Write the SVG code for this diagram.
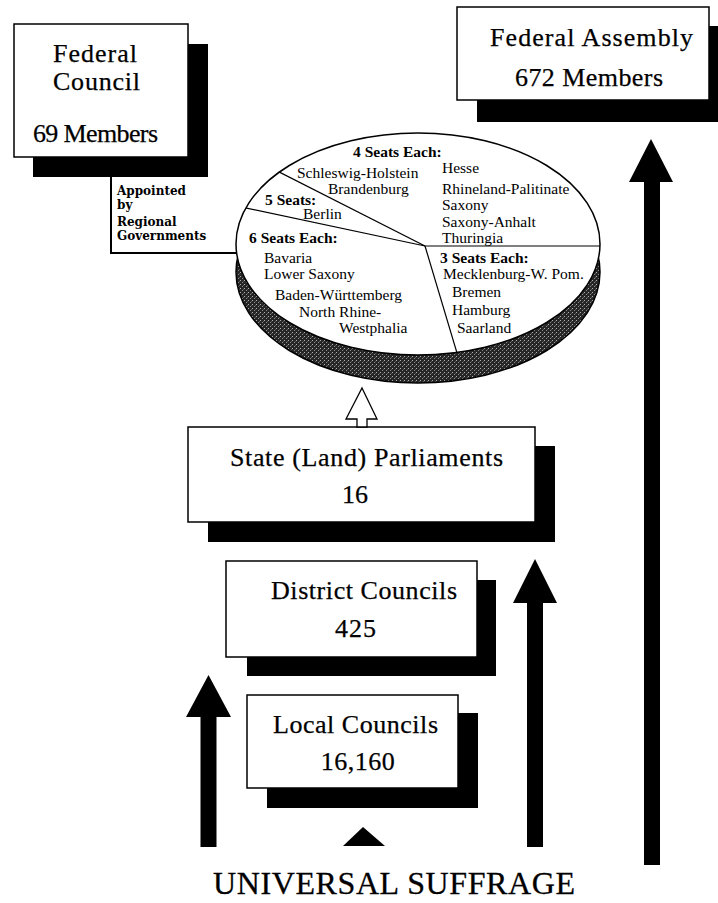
<svg xmlns="http://www.w3.org/2000/svg" width="718" height="903" viewBox="0 0 718 903">
  <style>
    .box { fill: #fff; stroke: #000; stroke-width: 1.5; }
    .shadow { fill: #000; }
    .title { font-family: "Liberation Serif", "Times New Roman", serif; font-size: 26px; fill: #000; stroke: #000; stroke-width: 0.25; }
    .pie { font-family: "Liberation Serif", "Times New Roman", serif; font-size: 15.5px; fill: #000; }
    .pie-h { font-family: "Liberation Serif", "Times New Roman", serif; font-size: 15.5px; font-weight: bold; fill: #000; }
    .note { font-family: "DejaVu Serif", serif; font-size: 12px; font-weight: bold; fill: #000; }
    .big { font-family: "Liberation Serif", "Times New Roman", serif; font-size: 32px; fill: #000; stroke: #000; stroke-width: 0.3; }
    .arrow { fill: #000; }
    .slice { stroke: #000; stroke-width: 1.2; fill: none; }
  </style>
  <defs>
    <!-- stippled grey for the pie rim -->
    <pattern id="stipple" width="4" height="4" patternUnits="userSpaceOnUse">
      <rect width="4" height="4" fill="#262626"/>
      <rect x="0" y="0" width="1" height="1" fill="#b0b0b0"/>
      <rect x="2" y="2" width="1" height="1" fill="#8a8a8a"/>
      <rect x="3" y="1" width="1" height="1" fill="#5a5a5a"/>
    </pattern>
    <clipPath id="pieFace">
      <ellipse cx="418" cy="244" rx="182" ry="111"/>
    </clipPath>
  </defs>

  <rect width="718" height="903" fill="#fff"/>

  <!-- Federal Council -->
  <g id="federal-council">
    <rect class="shadow" x="33" y="44" width="175" height="133"/>
    <rect class="box" x="14" y="24" width="174" height="133"/>
    <text class="title" x="53" y="62" font-size="23" textLength="84">Federal</text>
    <text class="title" x="53" y="90" font-size="23" textLength="87">Council</text>
    <text class="title" x="33" y="142" font-size="24" textLength="125">69 Members</text>
  </g>

  <!-- Federal Assembly -->
  <g id="federal-assembly">
    <rect class="shadow" x="477" y="26" width="241" height="96"/>
    <rect class="box" x="457" y="7" width="252" height="93"/>
    <text class="title" x="490" y="46" textLength="203">Federal Assembly</text>
    <text class="title" x="515" y="86" textLength="148">672 Members</text>
  </g>

  <!-- Seat distribution pie -->
  <g id="seat-pie">
    <ellipse cx="418" cy="272" rx="182" ry="111" fill="url(#stipple)" stroke="#000" stroke-width="1.5"/>
    <ellipse cx="418" cy="244" rx="182" ry="111" fill="#fff" stroke="#000" stroke-width="1.5"/>
    <g clip-path="url(#pieFace)">
      <line class="slice" x1="425" y1="246" x2="700" y2="246"/>
      <line class="slice" x1="425" y1="246" x2="145" y2="104"/>
      <line class="slice" x1="425" y1="246" x2="77" y2="172"/>
      <line class="slice" x1="425" y1="246" x2="489" y2="460"/>
    </g>
    <text class="pie-h" x="353" y="157">4 Seats Each:</text>
    <text class="pie" x="297" y="178">Schleswig-Holstein</text>
    <text class="pie" x="328" y="194">Brandenburg</text>
    <text class="pie" x="442" y="173">Hesse</text>
    <text class="pie" x="442" y="194">Rhineland-Palitinate</text>
    <text class="pie" x="442" y="210">Saxony</text>
    <text class="pie" x="442" y="227">Saxony-Anhalt</text>
    <text class="pie" x="442" y="243">Thuringia</text>
    <text class="pie-h" x="265" y="205">5 Seats:</text>
    <text class="pie" x="303" y="219">Berlin</text>
    <text class="pie-h" x="249" y="243">6 Seats Each:</text>
    <text class="pie" x="264" y="263">Bavaria</text>
    <text class="pie" x="264" y="279">Lower Saxony</text>
    <text class="pie" x="275" y="300">Baden-Württemberg</text>
    <text class="pie" x="299" y="317">North Rhine-</text>
    <text class="pie" x="339" y="333">Westphalia</text>
    <text class="pie-h" x="440" y="263">3 Seats Each:</text>
    <text class="pie" x="443" y="279">Mecklenburg-W. Pom.</text>
    <text class="pie" x="452" y="297">Bremen</text>
    <text class="pie" x="452" y="315">Hamburg</text>
    <text class="pie" x="457" y="333">Saarland</text>
  </g>

  <!-- State (Land) Parliaments -->
  <g id="state-parliaments">
    <rect class="shadow" x="208" y="446" width="347" height="96"/>
    <rect class="box" x="188" y="427" width="347" height="95"/>
    <text class="title" x="230" y="466" textLength="273">State (Land) Parliaments</text>
    <text class="title" x="355" y="503" text-anchor="middle">16</text>
  </g>

  <!-- District Councils -->
  <g id="district-councils">
    <rect class="shadow" x="247" y="580" width="249" height="96"/>
    <rect class="box" x="226" y="561" width="251" height="96"/>
    <text class="title" x="271" y="599" textLength="186">District Councils</text>
    <text class="title" x="356" y="637" text-anchor="middle" letter-spacing="1">425</text>
  </g>

  <!-- Local Councils -->
  <g id="local-councils">
    <rect class="shadow" x="267" y="713" width="211" height="95"/>
    <rect class="box" x="247" y="695" width="211" height="93"/>
    <text class="title" x="273" y="733" textLength="165">Local Councils</text>
    <text class="title" x="358" y="770" text-anchor="middle" letter-spacing="0.5">16,160</text>
  </g>

  <!-- Electorate -->
  <g id="universal-suffrage">
    <text class="big" x="213" y="894" textLength="362">UNIVERSAL SUFFRAGE</text>
  </g>

  <!-- Connectors -->
  <g id="connectors">
    <!-- appointment bracket from Federal Council to the pie -->
    <polyline points="111,177 111,253 237,253" fill="none" stroke="#000" stroke-width="2"/>
    <text class="note" x="117" y="195">Appointed</text>
    <text class="note" x="117" y="209">by</text>
    <text class="note" x="117" y="226">Regional</text>
    <text class="note" x="117" y="240">Governments</text>

    <!-- hollow arrow: State Parliaments to pie -->
    <polygon points="362,388 377,419 367,419 367,427 357,427 357,419 346,419" fill="#fff" stroke="#000" stroke-width="1.3"/>

    <!-- solid arrows from the electorate -->
    <polygon class="arrow" points="208.5,675 231,717 216.5,717 216.5,847 200.5,847 200.5,717 186,717"/>
    <polygon class="arrow" points="535,559 557,603 543,603 543,847 527,847 527,603 513,603"/>
    <polygon class="arrow" points="651,139 673,182 660,182 660,865 644,865 644,182 629,182"/>
    <polygon class="arrow" points="363,827 385,846 343,846"/>
  </g>
</svg>
